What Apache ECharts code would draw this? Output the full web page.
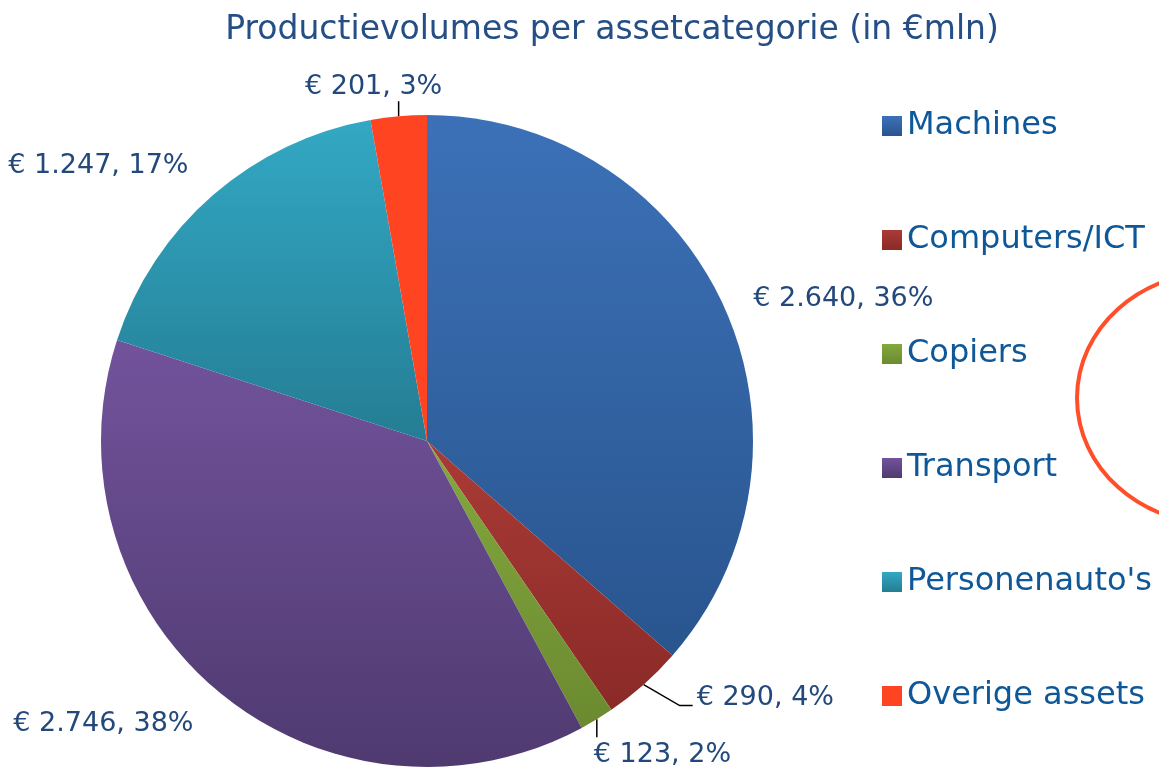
<!DOCTYPE html>
<html>
<head>
<meta charset="utf-8">
<script src="https://cdn.jsdelivr.net/npm/echarts@6/dist/echarts.min.js"></script>
<style>
  html, body { margin: 0; padding: 0; background: #fff; }
  #chart { width: 1159px; height: 772px; }
</style>
</head>
<body>
<div id="chart"></div>
<script>
  // categorieen en volumes (in € mln)
  var categories = ['Machines', 'Computers/ICT', 'Copiers', 'Transport', "Personenauto's", 'Overige assets'];
  var volumes = [2640, 290, 123, 2746, 1247, 201];
  // kleur boven / onder voor het verloop per segment
  var topColors = ['#3C71B8', '#AA3B36', '#84A83E', '#72539C', '#33A8C4', '#FF4422'];
  var bottomColors = ['#29558E', '#8A2A27', '#6B8A30', '#4F3A70', '#247D93', '#FF4422'];

  var total = volumes.reduce(function (a, b) { return a + b; }, 0);

  function fmt(v) {
    return String(v).replace(/\B(?=(\d{3})+(?!\d))/g, '.');
  }

  var font = 'DejaVu Sans';
  var chart = echarts.init(document.getElementById('chart'));

  var data = [];
  for (var i = 0; i < categories.length; i++) {
    data.push({
      name: categories[i],
      value: volumes[i],
      itemStyle: {
        color: new echarts.graphic.LinearGradient(0, 0, 0, 1, [
          { offset: 0, color: topColors[i] },
          { offset: 1, color: bottomColors[i] }
        ])
      },
      labelLine: { show: volumes[i] / total < 0.05 }
    });
  }

  chart.setOption({
    animation: false,
    title: {
      text: 'Productievolumes per assetcategorie (in €mln)',
      left: 607,
      textAlign: 'center',
      top: 9,
      textStyle: { color: '#244E85', fontWeight: 'normal', fontSize: 33, fontFamily: font }
    },
    legend: {
      orient: 'vertical',
      left: 877,
      top: 104,
      icon: 'rect',
      itemWidth: 20,
      itemHeight: 20,
      itemGap: 80,
      textStyle: { color: '#0E5899', fontSize: 32, fontFamily: font, lineHeight: 34 },
      data: categories
    },
    graphic: [{
      type: 'ellipse',
      shape: { cx: 1217, cy: 398, rx: 140, ry: 126 },
      style: { fill: 'none', stroke: '#FF4F2A', lineWidth: 4 }
    }],
    series: [{
      type: 'pie',
      center: [427, 441],
      radius: 326,
      startAngle: 90,
      clockwise: true,
      data: data,
      label: {
        position: 'outside',
        color: '#23497C',
        fontSize: 27,
        fontFamily: font,
        overflow: 'none',
        bleedMargin: 0,
        formatter: function (p) {
          return '€ ' + fmt(p.value) + ', ' + Math.round(p.value / total * 100) + '%';
        }
      },
      labelLine: {
        length: 18,
        length2: 8,
        lineStyle: { color: '#000', width: 1.5 }
      },
      labelLayout: function (p) {
        var s = p.labelLinePoints ? p.labelLinePoints[0] : null;
        if (p.dataIndex === 1 && s) {
          // Computers/ICT: schuine lijn met korte horizontale staart
          return {
            x: s[0] + 53, y: s[1] + 13, align: 'left', verticalAlign: 'middle',
            labelLinePoints: [s, [s[0] + 36, s[1] + 21], [s[0] + 49, s[1] + 21]]
          };
        }
        if (p.dataIndex === 2 && s) {
          // Copiers: label recht onder de rand
          return {
            x: s[0] - 3, y: s[1] + 22, align: 'left', verticalAlign: 'top',
            labelLinePoints: [s, [s[0], s[1] + 18], [s[0], s[1] + 18]]
          };
        }
        if (p.dataIndex === 5 && s) {
          // Overige assets: label recht boven de rand
          return {
            x: s[0] - 25, y: s[1] - 16, align: 'center', verticalAlign: 'bottom',
            labelLinePoints: [s, [s[0], s[1] - 15], [s[0], s[1] - 15]]
          };
        }
        if (p.dataIndex === 3) return { dy: 19 };
        if (p.dataIndex === 4) return { dy: -15 };
        return {};
      },
      emphasis: { disabled: true }
    }]
  });
</script>
</body>
</html>
